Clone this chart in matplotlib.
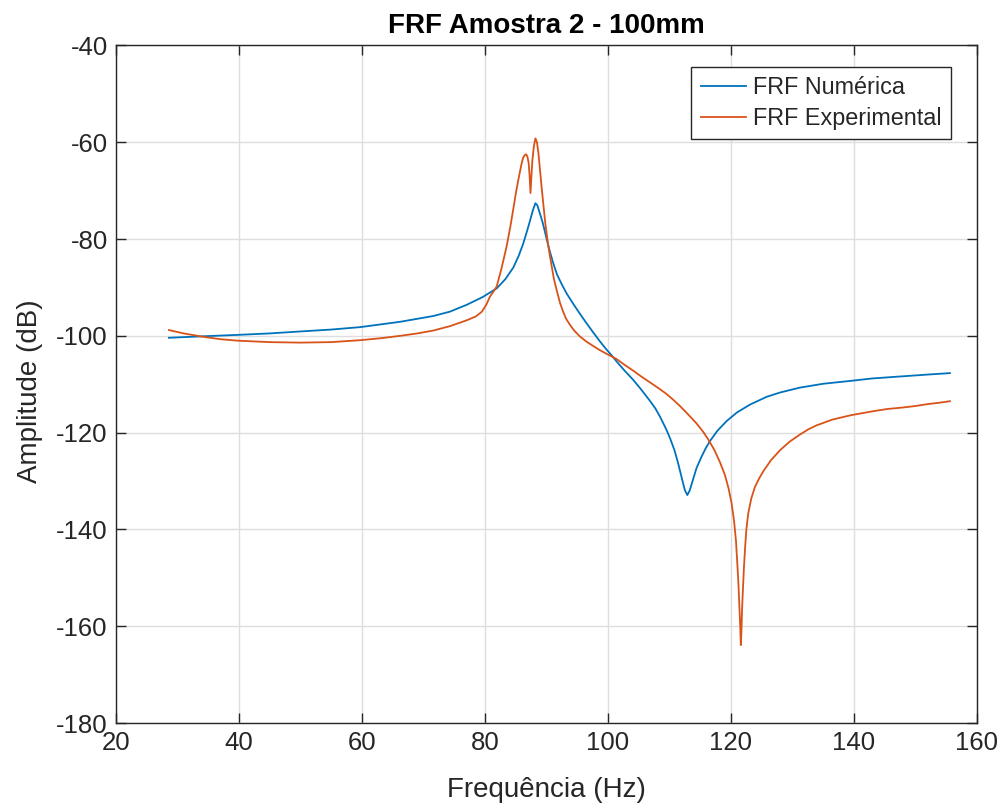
import matplotlib
matplotlib.use("Agg")
import matplotlib.pyplot as plt

plt.rcParams['font.family'] = ['Liberation Sans', 'DejaVu Sans']
plt.rcParams['axes.unicode_minus'] = False

# FRF Numérica (blue)
freq_num = [28.6, 34.0, 39.8, 45.0, 49.9, 55.0, 59.7, 66.2, 71.6, 74.3, 77.0, 79.6,
            81.9, 83.3, 84.6, 85.5, 86.2, 86.8, 87.3, 87.8, 88.2, 88.5, 88.9, 89.4,
            89.8, 90.2, 90.6, 91.1, 91.7, 92.5, 93.3, 94.3, 95.3, 96.4, 97.6, 98.6,
            99.6, 100.5, 101.4, 102.7, 104.1, 105.4, 106.8, 107.7, 108.5, 109.5,
            110.1, 110.8, 111.4, 112.0, 112.5, 112.9, 113.3, 113.8, 114.4, 115.2, 115.9,
            116.6, 117.8, 119.3, 121.0, 123.1, 125.8, 128.0, 131.2, 135.0, 139.5,
            143.0, 147.5, 152.0, 155.6]
amp_num = [-100.4, -100.1, -99.8, -99.5, -99.1, -98.7, -98.2, -97.1, -95.9, -95.0, -93.6, -92.0,
           -90.2, -88.3, -85.9, -83.4, -81.0, -78.5, -76.3, -74.0, -72.6, -73.0, -74.6, -76.7,
           -78.8, -80.9, -82.8, -85.0, -87.3, -89.4, -91.3, -93.3, -95.2, -97.2, -99.3, -101.0,
           -102.6, -103.9, -105.3, -107.2, -109.1, -111.1, -113.4, -115.0, -116.8, -119.4,
           -121.2, -123.6, -126.3, -129.4, -131.9, -132.9, -131.9, -129.8, -127.3, -125.0, -123.2,
           -121.7, -119.6, -117.6, -115.8, -114.2, -112.6, -111.7, -110.7, -109.9, -109.3,
           -108.8, -108.4, -108.0, -107.7]

# FRF Experimental (orange)
freq_exp = [28.6, 31.0, 34.2, 37.0, 39.8, 45.0, 49.9, 55.0, 59.7, 63.0, 66.2, 69.0,
            71.6, 74.3, 77.0, 78.5, 79.5, 80.2, 80.8, 81.3, 81.9, 82.7, 83.5, 84.1,
            84.6, 85.1, 85.6, 85.9, 86.2, 86.5, 86.7, 86.9, 87.1, 87.25, 87.4, 87.55,
            87.7, 87.95, 88.2, 88.45, 88.7, 88.95, 89.2, 89.5, 89.8, 90.3, 90.8, 91.2,
            91.7, 92.2, 92.7, 93.2, 93.8, 94.5, 95.4, 96.5, 97.6, 98.6, 99.6, 101.4,
            102.7, 104.1, 105.4, 106.8, 108.2, 109.5, 110.6, 111.7, 113.0, 114.4,
            115.4, 116.3, 117.3, 118.2, 119.0, 119.6, 120.1, 120.5, 120.8, 121.0,
            121.2, 121.35, 121.5, 121.6, 121.7, 121.8, 121.9, 122.1, 122.3, 122.5,
            122.8, 123.3, 123.9, 124.6, 125.3, 126.5, 128.0, 129.5, 131.2, 132.6, 133.9,
            136.5, 139.5, 143.0, 145.5, 146.4, 147.2, 148.0, 150.0, 152.0, 154.0, 155.6]
amp_exp = [-98.8, -99.5, -100.2, -100.7, -101.0, -101.3, -101.4, -101.3, -100.9, -100.5, -100.0, -99.5,
           -98.9, -98.0, -96.8, -96.0, -95.0, -93.6, -91.9, -91.0, -89.8, -86.0, -81.6, -77.6,
           -73.8, -69.9, -66.6, -64.7, -63.2, -62.6, -62.5, -63.0, -64.3, -66.9, -70.5, -67.0,
           -63.8, -60.8, -59.2, -60.0, -62.4, -65.8, -69.2, -73.0, -76.7, -81.5, -85.3, -88.2,
           -90.8, -93.2, -95.0, -96.5, -97.7, -98.9, -100.1, -101.2, -102.1, -102.9, -103.6, -104.8,
           -106.0, -107.2, -108.4, -109.6, -110.8, -112.0, -113.2, -114.5, -116.2, -118.1,
           -119.7, -121.4, -123.6, -126.1, -128.7, -131.5, -134.6, -138.3, -142.2, -146.5,
           -151.0, -155.5, -160.0, -163.9, -161.0, -156.5, -153.5, -148.0, -143.6, -140.0,
           -136.7, -133.6, -131.2, -129.4, -127.9, -125.7, -123.6, -121.9, -120.4, -119.3, -118.5,
           -117.3, -116.4, -115.6, -115.1, -115.0, -114.9, -114.8, -114.5, -114.1, -113.8, -113.5]

x_ticks = [20, 40, 60, 80, 100, 120, 140, 160]
y_ticks = [-180, -160, -140, -120, -100, -80, -60, -40]

title = 'FRF Amostra 2 - 100mm'
xlabel = 'Frequência (Hz)'
ylabel = 'Amplitude (dB)'
labels = ['FRF Numérica', 'FRF Experimental']

c_blue = '#0072BD'
c_orange = '#D95319'
c_axis = '#262626'

fig = plt.figure(figsize=(10, 8.09), dpi=100)
ax = fig.add_axes([0.116, 0.1063, 0.861, 0.8375])

ax.plot(freq_num, amp_num, color=c_blue, lw=1.3, label=labels[0])
ax.plot(freq_exp, amp_exp, color=c_orange, lw=1.3, label=labels[1])

ax.set_xlim(20, 160)
ax.set_ylim(-180, -40)
ax.set_xticks(x_ticks)
ax.set_yticks(y_ticks)
ax.grid(True, color='#dedede', lw=1.0)
ax.set_axisbelow(True)

for s in ax.spines.values():
    s.set_color(c_axis)
    s.set_linewidth(1.0)

ax.tick_params(direction='in', length=7, width=1.0, colors=c_axis,
               labelsize=18.5, top=True, right=True, pad=6)
for lab in ax.get_xticklabels() + ax.get_yticklabels():
    lab.set_color(c_axis)

ax.set_xlabel(xlabel, fontsize=20, color=c_axis)
ax.set_ylabel(ylabel, fontsize=20, color=c_axis)
ax.xaxis.set_label_coords(0.5, -0.079)
ax.yaxis.set_label_coords(-0.085, 0.49)
ax.set_title(title, fontsize=20, fontweight='bold', color='black', y=1.018, pad=0)

leg = ax.legend(loc='upper right', bbox_to_anchor=(0.9698, 0.9683), borderaxespad=0,
                fontsize=16.8, frameon=True, fancybox=False, framealpha=1,
                edgecolor=c_axis, handlelength=1.95, handletextpad=0.3,
                borderpad=0.4, labelspacing=0.33)
leg.get_frame().set_linewidth(1.0)
for t in leg.get_texts():
    t.set_color(c_axis)

fig.savefig('out.png', dpi=100)
